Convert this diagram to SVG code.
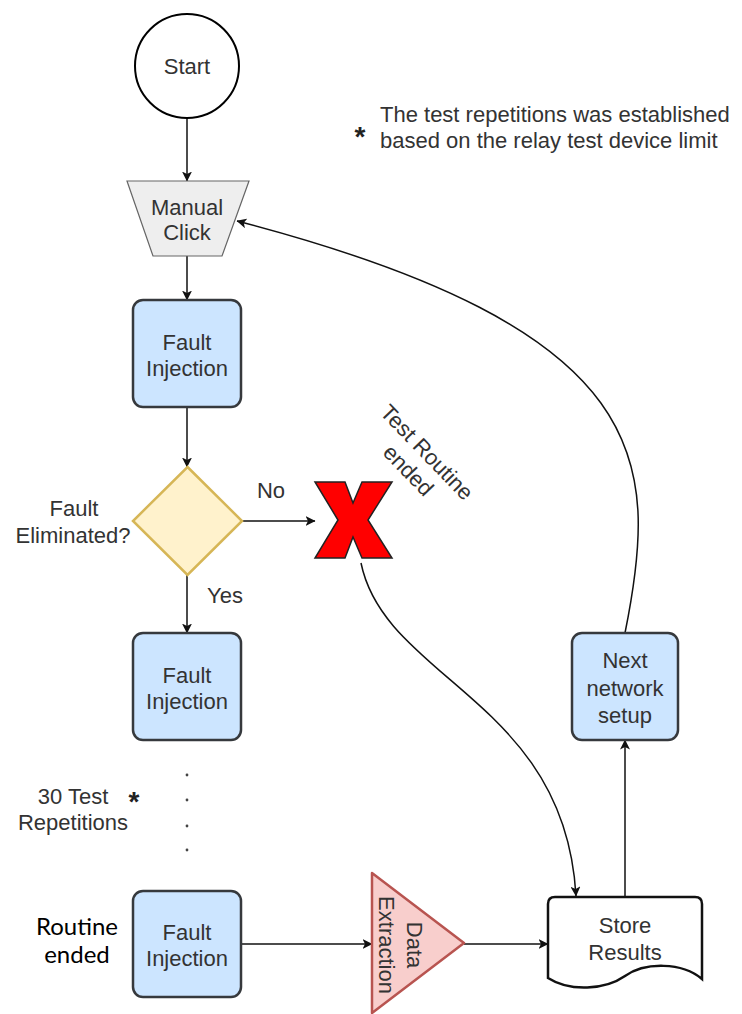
<svg xmlns="http://www.w3.org/2000/svg" width="742" height="1014" viewBox="0 0 742 1014">
<defs>
<marker id="arr" viewBox="0 0 10 10" refX="9.5" refY="5" markerWidth="10" markerHeight="10" markerUnits="userSpaceOnUse" orient="auto">
<path d="M0,0 L10,5 L0,10 L2.5,5 Z" fill="#111"/>
</marker>
<style>
.t{font-family:"Liberation Sans",Arial,sans-serif;font-size:22px;fill:#333;text-anchor:middle}
.l{font-family:"Liberation Sans",Arial,sans-serif;font-size:22px;fill:#333}
.c{fill:none;stroke:#111;stroke-width:1.5;marker-end:url(#arr)}
.proc{fill:#cce5ff;stroke:#36393d;stroke-width:2.5}
.dot{fill:#444}
</style>
</defs>
<rect width="742" height="1014" fill="#fff"/>

<g id="connectors">
<path class="c" d="M187,119 L187,181"/>
<path class="c" d="M187,256 L187,300"/>
<path class="c" d="M187,407 L187,467"/>
<path class="c" d="M242,521 L315,521"/>
<path class="c" d="M187,575 L187,633"/>
<path class="c" d="M241,944 L372,944"/>
<path class="c" d="M464,944 L548,944"/>
<path class="c" d="M625,897 L625,740"/>
<path class="c" d="M625,633 C660,460 655,330 237,221"/>
<path class="c" d="M361,563 C385,680 565,700 576,896"/>
</g>

<g id="start">
<circle cx="187" cy="66" r="52" fill="#fff" stroke="#000" stroke-width="2"/>
<text class="t" x="187" y="74">Start</text>
</g>

<g id="note">
<text x="360" y="146" font-family="Liberation Sans,Arial,sans-serif" font-size="28" font-weight="bold" fill="#222" text-anchor="middle">*</text>
<text class="l" x="380" y="122">The test repetitions was established</text>
<text class="l" x="380" y="148">based on the relay test device limit</text>
</g>

<g id="manual">
<polygon points="127,181 249,181 222,256 153,256" fill="#eeeeee" stroke="#666" stroke-width="1.2"/>
<text class="t" x="187" y="215" fill="#555">Manual</text>
<text class="t" x="187" y="240">Click</text>
</g>

<g id="fault1">
<rect class="proc" x="133" y="300" width="108" height="107" rx="10"/>
<text class="t" x="187" y="350">Fault</text>
<text class="t" x="187" y="376">Injection</text>
</g>

<g id="decision">
<polygon points="187.5,467 242,521 187.5,575 133,521" fill="#fff2cc" stroke="#d6b656" stroke-width="2.5"/>
<text class="t" x="74" y="516">Fault</text>
<text class="t" x="73" y="543">Eliminated?</text>
<text class="t" x="271" y="498">No</text>
<text class="t" x="225" y="603">Yes</text>
</g>

<g id="xmark">
<polygon points="315,482 345,482 353,503 362,482 392,482 368,520 392,558 362,558 353,537 345,558 315,558 338,520" fill="#ff0000" stroke="#222" stroke-width="1.5" stroke-linejoin="miter"/>
<text class="t" transform="translate(418,461) rotate(46)"><tspan x="0" y="-5">Test Routine</tspan><tspan x="0" y="21">ended</tspan></text>
</g>

<g id="fault2">
<rect class="proc" x="133" y="633" width="108" height="107" rx="10"/>
<text class="t" x="187" y="683">Fault</text>
<text class="t" x="187" y="709">Injection</text>
</g>

<g id="repetitions">
<circle class="dot" cx="187" cy="775" r="1.4"/>
<circle class="dot" cx="187" cy="800" r="1.4"/>
<circle class="dot" cx="187" cy="826" r="1.4"/>
<circle class="dot" cx="187" cy="850" r="1.4"/>
<text class="t" x="73" y="804">30 Test</text>
<text class="t" x="73" y="830">Repetitions</text>
<text x="134" y="811" font-family="Liberation Sans,Arial,sans-serif" font-size="28" font-weight="bold" fill="#222" text-anchor="middle">*</text>
</g>

<g id="fault3">
<rect class="proc" x="133" y="891" width="108" height="106" rx="10"/>
<text class="t" x="187" y="940">Fault</text>
<text class="t" x="187" y="966">Injection</text>
<text x="77" y="935" font-family="Lato,'Open Sans',sans-serif" font-size="24" fill="#000" text-anchor="middle">Routine</text>
<text x="77" y="963" font-family="Lato,'Open Sans',sans-serif" font-size="24" fill="#000" text-anchor="middle">ended</text>
</g>

<g id="extraction">
<polygon points="372,873 464,943 372,1013" fill="#f8cecc" stroke="#b85450" stroke-width="2.5" stroke-linejoin="round"/>
<text class="t" transform="translate(401,945) rotate(90)"><tspan x="0" y="-6">Data</tspan><tspan x="0" y="22">Extraction</tspan></text>
</g>

<g id="store">
<path d="M548,978 L548,904 Q548,897 555,897 L695,897 Q702,897 702,904 L702,979 C682,962 645,962 625,976 C605,990 570,992 548,978 Z" fill="#fff" stroke="#111" stroke-width="2.5"/>
<text class="t" x="625" y="933">Store</text>
<text class="t" x="625" y="960">Results</text>
</g>

<g id="next">
<rect class="proc" x="572" y="633" width="106" height="107" rx="10"/>
<text class="t" x="625" y="668">Next</text>
<text class="t" x="625" y="696">network</text>
<text class="t" x="625" y="723">setup</text>
</g>
</svg>
